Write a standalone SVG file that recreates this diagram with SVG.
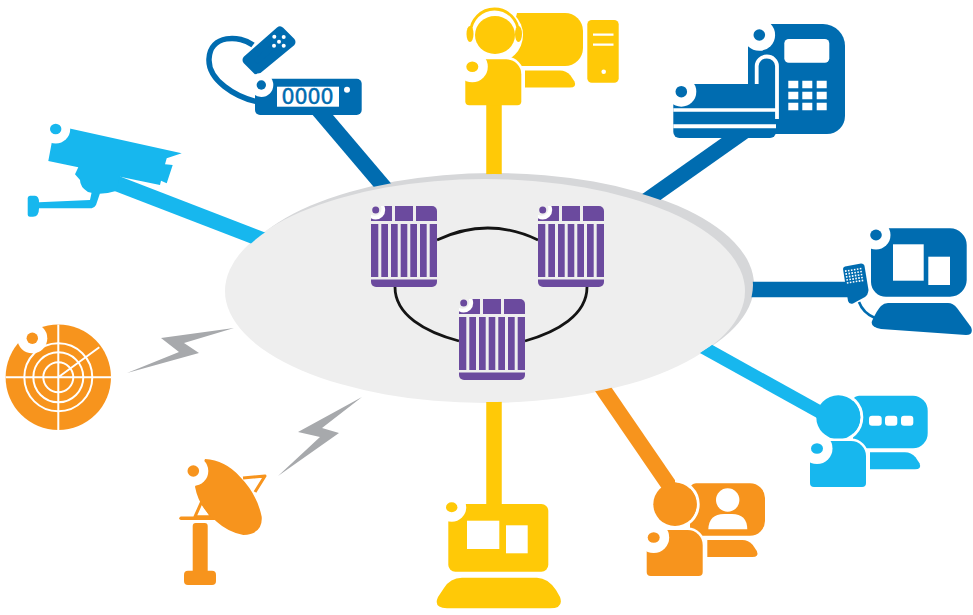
<svg xmlns="http://www.w3.org/2000/svg" width="973" height="615" viewBox="0 0 973 615">
<style>
.navy{fill:#006cb0}.sky{fill:#17b7ee}.gold{fill:#ffc907}.amber{fill:#f7941d}.violet{fill:#6b4a9e}
.w{fill:#fff}
.spoke{fill:none;stroke-width:15.5}
.ring{fill:none;stroke:#141414;stroke-width:2.8}
.bolt{fill:#a7a9ac}
.halo{fill:none;stroke:#fff;stroke-width:5}
.arc{fill:none;stroke:#fff;stroke-width:3}
text{font-family:"DejaVu Sans","Liberation Sans",sans-serif}
</style>
<defs>
<mask id="outside" maskUnits="userSpaceOnUse" x="0" y="0" width="973" height="615">
<rect width="973" height="615" fill="#fff"/>
<ellipse cx="494" cy="285" rx="259" ry="111" fill="#000"/>
<ellipse cx="485" cy="291" rx="259" ry="111" fill="#000"/>
</mask>
<clipPath id="router-box"><rect width="66" height="18"/></clipPath>
<g id="router">
<path d="M0,73.500H66V76A5,5 0 0 1 61,81H5A5,5 0 0 1 0,76Z"/>
<path d="M0,18H7.300V71H0ZM10.300,18H17V71H10.300ZM20,18H26.700V71H20ZM29.700,18H36.300V71H29.700ZM39.300,18H46V71H39.300ZM49,18H55.700V71H49ZM58.700,18H66V71H58.700Z"/>
<path d="M0,15V3A3,3 0 0 1 3,0H21V15Z"/>
<rect x="24" y="0" width="18" height="15"/>
<path d="M45,0H61A5,5 0 0 1 66,5V15H45Z"/>
<circle class="w" cx="4.700" cy="4" r="9.500" clip-path="url(#router-box)"/>
<circle cx="3.500" cy="2.800" r="7" fill="#eeeeee"/>
<circle cx="4.700" cy="4" r="3.500"/>
</g>
<g id="person">
<path class="halo" d="M4,0H41A15,15 0 0 1 56,15V46"/>
<path d="M4,0H41A15,15 0 0 1 56,15V42A4,4 0 0 1 52,46H4A4,4 0 0 1 0,42V4A4,4 0 0 1 4,0Z"/>
<circle class="w" cx="7" cy="7.500" r="15.500"/>
<ellipse cx="7" cy="7.500" rx="6" ry="5.300"/>
</g>
<path id="deskkeys" d="M0,0H35Q41,0 45.500,5L49.500,11Q52,17 45,17H0Z"/>
</defs>

<g id="cloud">
<ellipse cx="494" cy="285" rx="260" ry="112" fill="#d6d7d9"/>
<ellipse cx="485" cy="291" rx="260" ry="112" fill="#eeeeee"/>
</g>

<g id="connectors">
<g mask="url(#outside)">
<path class="spoke" stroke="#006cb0" d="M305,94L395,200"/>
<path class="spoke" stroke="#ffc907" d="M494,95V200"/>
<path class="spoke" stroke="#006cb0" d="M752,126L640,205"/>
<path class="spoke" stroke="#006cb0" d="M850,289.500H730"/>
<path class="spoke" stroke="#17b7ee" style="stroke-width:13" d="M835,420.500L690,340"/>
<path class="spoke" stroke="#f7941d" d="M675,494L590,370"/>
<path class="spoke" stroke="#ffc907" d="M494,510V380"/>
<path class="spoke" stroke="#17b7ee" d="M105,179L285,248.500"/>
</g>
<path class="ring" d="M437,240Q488,216 538,240"/>
<path class="ring" d="M395,287C395,315 425,332 459,341"/>
<path class="ring" d="M587,287C587,315 557,332 525,341"/>
</g>

<g id="bolts">
<path class="bolt" d="M234,328L161,338L179,352L127,373L199,353L184,343Z"/>
<path class="bolt" d="M362,397L298,432L320,437L278,476L339,433L322,428Z"/>
</g>

<g id="router-1" class="violet"><use href="#router" x="371" y="206"/></g>
<g id="router-2" class="violet"><use href="#router" x="538" y="206"/></g>
<g id="router-3" class="violet"><use href="#router" x="459" y="299"/></g>

<g id="camera" class="sky">
<path d="M27.700,198A2.500,2.500 0 0 1 30,195.700H35Q39,196 39,202.300L90,200L91.700,192L100,193.300L96,205Q94,208.300 91.700,208.300L39,208.300Q39,216.700 33,216.700H30A2.500,2.500 0 0 1 27.700,214Z"/>
<path d="M55,125.300L181.700,153.300L166.700,158.300L165,164.300L172.700,165L166.700,183.300L161,180.700L160,185L120,176.700L116,191Q100,196 88,192Q80,187 80,180L75,174.300L78.300,167.300L48.300,161Z"/>
<circle class="w" cx="55.700" cy="129" r="14.500"/>
<ellipse cx="55.700" cy="129" rx="5.700" ry="5.300"/>
</g>

<g id="radar">
<circle class="amber" cx="58.300" cy="377.300" r="52.700"/>
<g fill="none" stroke="#fff" stroke-width="2">
<path d="M58.300,324.600V430M5.600,377.300H111M58.300,377.300L99.300,347.300"/>
<circle cx="58.300" cy="377.300" r="15"/>
<circle cx="58.300" cy="377.300" r="25"/>
<circle cx="58.300" cy="377.300" r="34"/>
</g>
<circle class="w" cx="32.300" cy="338.300" r="15"/>
<circle class="amber" cx="32.300" cy="338.300" r="5.700"/>
</g>

<g id="dish" class="amber">
<path fill="none" stroke="#f7941d" stroke-width="3" stroke-linejoin="round" d="M243,478L265,476L255,492"/>
<path fill="none" stroke="#f7941d" stroke-width="3" stroke-linejoin="round" d="M201.700,501.700L195,516.700L211.700,516.700Z"/>
<path fill="none" stroke="#f7941d" stroke-width="3.400" stroke-linecap="round" d="M181,518.300H218"/>
<path d="M192.700,526A3,3 0 0 1 195.700,523H204.700A3,3 0 0 1 207.700,526V572H192.700Z"/>
<rect x="184" y="570.700" width="32" height="14.300" rx="4"/>
<path d="M205,459Q225,460 240,476.700Q257,494 261.700,516.700Q263,534 243.300,535Q228,532 216.700,521.700Q199,508 195,486.700Z"/>
<circle class="w" cx="193.300" cy="471" r="15"/>
<circle cx="193.300" cy="471" r="5.800"/>
</g>

<g id="remote-terminal" class="navy">
<path fill="none" stroke="#006cb0" stroke-width="5.500" d="M253,45C240,35 210,34 209,59C208,80 235,97 258,102"/>
<path stroke="#006cb0" stroke-width="9" stroke-linejoin="round" d="M280,31L291,42L257,70L247,60Z"/>
<g class="w">
<circle cx="274.300" cy="36.700" r="2"/><circle cx="283.700" cy="37" r="2"/><circle cx="279" cy="41.700" r="2"/><circle cx="274" cy="45.700" r="2"/><circle cx="283.700" cy="45.700" r="2"/>
</g>
<rect x="255" y="78.700" width="106.700" height="36.300" rx="5"/>
<circle class="w" cx="261.300" cy="85" r="12"/>
<circle cx="261.300" cy="85" r="4.700"/>
<rect class="w" x="277" y="86.700" width="62" height="20"/>
<text x="307.500" y="104" font-size="20.500" text-anchor="middle" fill="#006cb0" stroke="#006cb0" stroke-width="0.500">0000</text>
<circle class="w" cx="347" cy="89.700" r="3"/>
</g>

<g id="agent" class="gold">
<path d="M517,13H565A18,18 0 0 1 583,31V48A18,18 0 0 1 565,66H510V40Z"/>
<use href="#deskkeys" x="525" y="70.500"/>
<rect x="587.300" y="20" width="31.400" height="62.700" rx="4.500"/>
<path class="w" d="M593,33.500H613.500V35.700H593ZM593,43.500H613.500V45.700H593Z"/>
<circle class="w" cx="603.700" cy="71.700" r="2.300"/>
<circle class="w" cx="495" cy="35" r="28"/>
<ellipse cx="495" cy="35" rx="20" ry="19"/>
<path fill="none" stroke="#ffc907" stroke-width="2.800" d="M470.500,33A24,24 0 0 1 518.500,33"/>
<ellipse cx="470" cy="34" rx="3.500" ry="8"/>
<ellipse cx="518.500" cy="34" rx="3.500" ry="8"/>
<use href="#person" x="465.300" y="59.300"/>
</g>

<g id="phone-terminal" class="navy">
<path d="M748,24H823A22,22 0 0 1 845,46V116A18,18 0 0 1 827,134H748Z"/>
<circle class="w" cx="759.300" cy="35" r="15.800"/>
<circle cx="759.300" cy="35" r="5.800"/>
<rect class="w" x="784.300" y="39" width="45" height="23.700" rx="4.500"/>
<path class="w" d="M788.300,80.700h10v7.500h-10zM802.300,80.700h10v7.500h-10zM816.700,80.700h10v7.500h-10zM788.300,91.700h10v7.500h-10zM802.300,91.700h10v7.500h-10zM816.700,91.700h10v7.500h-10zM788.300,102.700h10v7.500h-10zM802.300,102.700h10v7.500h-10zM816.700,102.700h10v7.500h-10z"/>
<path d="M673.300,84H776V132A6,6 0 0 1 770,138H679.300A6,6 0 0 1 673.300,132Z"/>
<circle class="w" cx="681.300" cy="91.700" r="15"/>
<circle cx="681.300" cy="91.700" r="5.800"/>
<path class="w" d="M673.300,108.300H776V111.700H673.300ZM673.300,124.300H776V128.300H673.300Z"/>
<path fill="none" stroke="#fff" stroke-width="3.800" d="M756.700,84V66A10.150,9.500 0 0 1 777,66V119"/>
</g>

<g id="dispatch-console" class="navy">
<path d="M871,228.300H950A17,17 0 0 1 966.700,245V280A17,17 0 0 1 950,296.700H886A15,15 0 0 1 871,282Z"/>
<circle class="w" cx="876" cy="235" r="14.500"/>
<ellipse cx="876" cy="235" rx="5.800" ry="5.400"/>
<rect class="w" x="893" y="244.300" width="30.700" height="36.400"/>
<rect class="w" x="928.300" y="256.700" width="21.700" height="28.300"/>
<path d="M888,303H948Q953,303 957,308L971,327Q974,335 966,335L881,329Q870,327 872,321Q877,310 881,306Q884,303 888,303Z"/>
<path fill="none" stroke="#006cb0" stroke-width="2.600" d="M859,302Q863,313 875,318"/>
<path d="M845,266.500L861,263.500Q864,263.500 864.500,266L868.500,290Q868,295 865,297L853,303.500Q849,304.500 848,301L843,269Q843,267 845,266.500Z"/>
<g class="w" transform="rotate(-9 854 277)">
<path d="M846,269h1.600v1.600h-1.600zM849,269h1.600v1.600h-1.600zM852,269h1.600v1.600h-1.600zM855,269h1.600v1.600h-1.600zM858,269h1.600v1.600h-1.600zM861,269h1.600v1.600h-1.600zM846,272h1.600v1.600h-1.600zM849,272h1.600v1.600h-1.600zM852,272h1.600v1.600h-1.600zM855,272h1.600v1.600h-1.600zM858,272h1.600v1.600h-1.600zM861,272h1.600v1.600h-1.600zM846,275h1.600v1.600h-1.600zM849,275h1.600v1.600h-1.600zM852,275h1.600v1.600h-1.600zM855,275h1.600v1.600h-1.600zM858,275h1.600v1.600h-1.600zM861,275h1.600v1.600h-1.600zM846,278h1.600v1.600h-1.600zM849,278h1.600v1.600h-1.600zM852,278h1.600v1.600h-1.600zM855,278h1.600v1.600h-1.600zM858,278h1.600v1.600h-1.600zM861,278h1.600v1.600h-1.600zM846,281h1.600v1.600h-1.600zM849,281h1.600v1.600h-1.600zM852,281h1.600v1.600h-1.600zM855,281h1.600v1.600h-1.600zM858,281h1.600v1.600h-1.600zM861,281h1.600v1.600h-1.600z"/>
</g>
</g>

<g id="chat-user" class="sky">
<path d="M859,395.700H913A15,15 0 0 1 927.700,411V433A15,15 0 0 1 913,448.300H853V400Q854,396 859,395.700Z"/>
<use href="#deskkeys" x="870" y="452.300"/>
<path class="arc" d="M838.300,393.800A23.500,23.500 0 0 1 838.300,440.800"/>
<circle cx="838.300" cy="417.300" r="22"/>
<rect class="w" x="869" y="415.700" width="12.700" height="10" rx="3"/>
<rect class="w" x="885" y="415.700" width="12.300" height="10" rx="3"/>
<rect class="w" x="901" y="415.700" width="12.300" height="10" rx="3"/>
<use href="#person" x="810" y="441"/>
</g>

<g id="video-user" class="amber">
<path d="M696,483.300H750A15,15 0 0 1 765,498V521A15,15 0 0 1 750,535.700H690V488Q691,484 696,483.300Z"/>
<use href="#deskkeys" x="707.300" y="540"/>
<path class="arc" d="M675,481.100A23.200,23.200 0 0 1 675,527.500"/>
<circle cx="675" cy="504.300" r="21.700"/>
<circle class="w" cx="727.700" cy="500" r="11.700"/>
<path class="w" d="M708.300,529.300Q709,514 724,514H732Q747,514 747.300,529.300Z"/>
<use href="#person" x="646.700" y="530"/>
</g>

<g id="workstation" class="gold">
<rect x="448.300" y="504" width="100" height="67.700" rx="7"/>
<circle class="w" cx="451.700" cy="507.300" r="14.500"/>
<ellipse cx="451.700" cy="507.300" rx="5.700" ry="5"/>
<rect class="w" x="467" y="520.700" width="32.300" height="28.300"/>
<rect class="w" x="506" y="525.300" width="21.700" height="28"/>
<path d="M462,577.700H537Q548,578 556,590L560,597Q564,608.300 550,608.300H447Q433,608 438,597L444,588Q450,578 462,577.700Z"/>
</g>
</svg>
